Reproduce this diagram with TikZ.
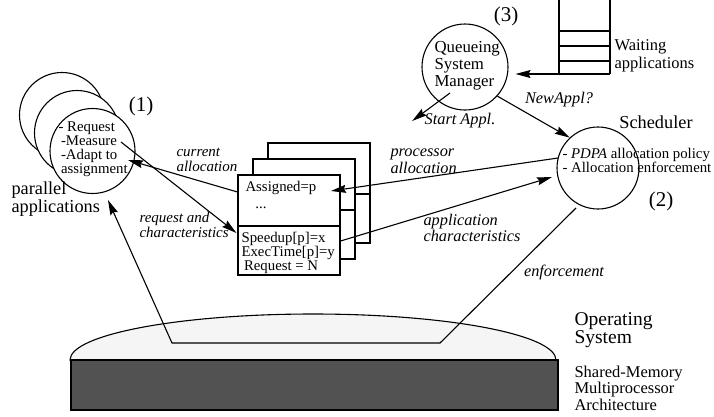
\documentclass[tikz,border=0pt]{standalone}
\usepackage{fontspec}
\setmainfont{Liberation Serif}
\usetikzlibrary{arrows.meta}
\begin{document}
\begin{tikzpicture}[x=1pt, y=-1pt, line width=1.1pt,
  arr/.style={-{Stealth[length=15pt, width=8pt, inset=2pt]}},
  appcircle/.style={draw, circle, fill=white, minimum size=85pt, inner sep=0pt},
  card/.style={draw, rectangle, fill=white, minimum width=102pt, minimum height=100pt, inner sep=0pt},
  plain/.style={inner sep=0pt, align=left, font=\fontsize{14.8}{14}\selectfont},
  itsmall/.style={inner sep=0pt, align=left, font=\fontsize{15}{14.5}\selectfont\itshape},
  itlab/.style={inner sep=0pt, align=left, font=\fontsize{16.3}{16.5}\selectfont\itshape},
  mid/.style={inner sep=0pt, align=left, font=\fontsize{16.8}{17}\selectfont},
  big/.style={inner sep=0pt, align=left, font=\fontsize{18.3}{18}\selectfont},
  num/.style={inner sep=0pt, font=\fontsize{21}{21}\selectfont}]
\useasboundingbox (0,0) rectangle (714,416);

% Operating system and machine
\draw[fill=black!4] (70,360) arc[start angle=180, end angle=360, x radius=243, y radius=46] -- cycle;
\draw[fill=black!68] (71,360) rectangle (558,410);
\node[mid, anchor=west, font=\fontsize{19.5}{16.5}\selectfont] (osname) at (574,330) {Operating\\System};
\node[mid, anchor=west, font=\fontsize{16.5}{16.5}\selectfont] (hwname) at (574,388) {Shared-Memory\\Multiprocessor\\Architecture};

% Parallel applications
\foreach \i/\x/\y in {2/62/115, 1/77/133, 0/92.5/151}
  \node[appcircle] (app\i) at (\x,\y) {};
\node[plain, anchor=west] (apptext) at (58,149) {- Request\\ \,-Measure\\ \,-Adapt to\\ \,assignment};
\node[num] (lab1) at (141,106) {(1)};
\node[big, anchor=west] (appname) at (11,199) {parallel\\applications};

% Shared descriptors
\foreach \i in {2,1,0} {
  \node[card] (card\i) at (289+15*\i, 225-16*\i) {};
  \draw ([yshift=-1pt]card\i.west) -- ([yshift=-1pt]card\i.east);
}
\node[plain, anchor=west] (assigned) at (245,188) {Assigned=p};
\node[plain, anchor=south] (dots) at (261,209) {...};
\node[plain, anchor=west] (cardvals) at (241,253) {Speedup[p]=x\\ExecTime[p]=y\\ \,Request = N};

% Scheduler
\node[draw, circle, minimum size=82pt, inner sep=0pt] (sched) at (598,168) {};
\node[plain, anchor=west] (schedtext) at (562,160) {- \textit{PDPA} allocation policy\\- Allocation enforcement};
\node[big] (schedname) at (656,122) {Scheduler};
\node[num] (lab2) at (661,201) {(2)};

% Queueing system
\node[draw, circle, minimum size=86pt, inner sep=0pt] (qsm) at (465,67) {};
\node[mid, anchor=west] (qsmtext) at (434,66) {Queueing\\System\\Manager};
\node[num] (lab3) at (506,16) {(3)};
\draw (559,0) -- (559,74) (610,0) -- (610,74);
\foreach \y in {31,46,61}
  \draw (559,\y) -- (610,\y);
\coordinate (qbot) at (610,74);
\node[mid, anchor=west, font=\fontsize{16.5}{17.5}\selectfont] (waiting) at (614,56) {Waiting\\applications};

% Labels
\node[itsmall, anchor=west] (curalloc) at (176,160) {current\\allocation};
\node[itsmall, anchor=west] (reqchar) at (139,225) {request and\\characteristics};
\node[itlab, anchor=west] (procalloc) at (390,161) {processor\\allocation};
\node[itlab, anchor=west] (appchar) at (423,228) {application\\characteristics};
\node[itlab] (newappl) at (559,100) {NewAppl?};
\node[itlab] (startappl) at (460,121) {Start Appl.};
\node[itlab] (enforce) at (564,272) {enforcement};

% Arrows
\draw[arr] ([shift={(0,-33)}]card0.west) -- ([shift={(35.5,9)}]app0.center);
\draw[arr] ([shift={(28.5,-9)}]app0.center) -- ([shift={(-1,8)}]card0.west);
\draw[arr] ([shift={(-40,-10)}]sched.center) -- ([shift={(14,3)}]assigned.east);
\draw[arr] ([shift={(0,16)}]card0.east) -- ([shift={(-46,9)}]sched.center);
\draw[arr] (qsm.-42) -- (sched.133);
\draw[arr] ([shift={(-15,26)}]qsm.center) -- ([shift={(-12,0)}]startappl.west);
\draw[arr] (qbot) -- ([shift={(7,7)}]qsm.east);
\coordinate (osR) at (440,343);
\coordinate (osL) at (172,343);
\draw[arr] ([shift={(-22,40)}]sched.center) -- (osR) -- (osL) -- ([shift={(15.5,49)}]app0.center);
\end{tikzpicture}
\end{document}
